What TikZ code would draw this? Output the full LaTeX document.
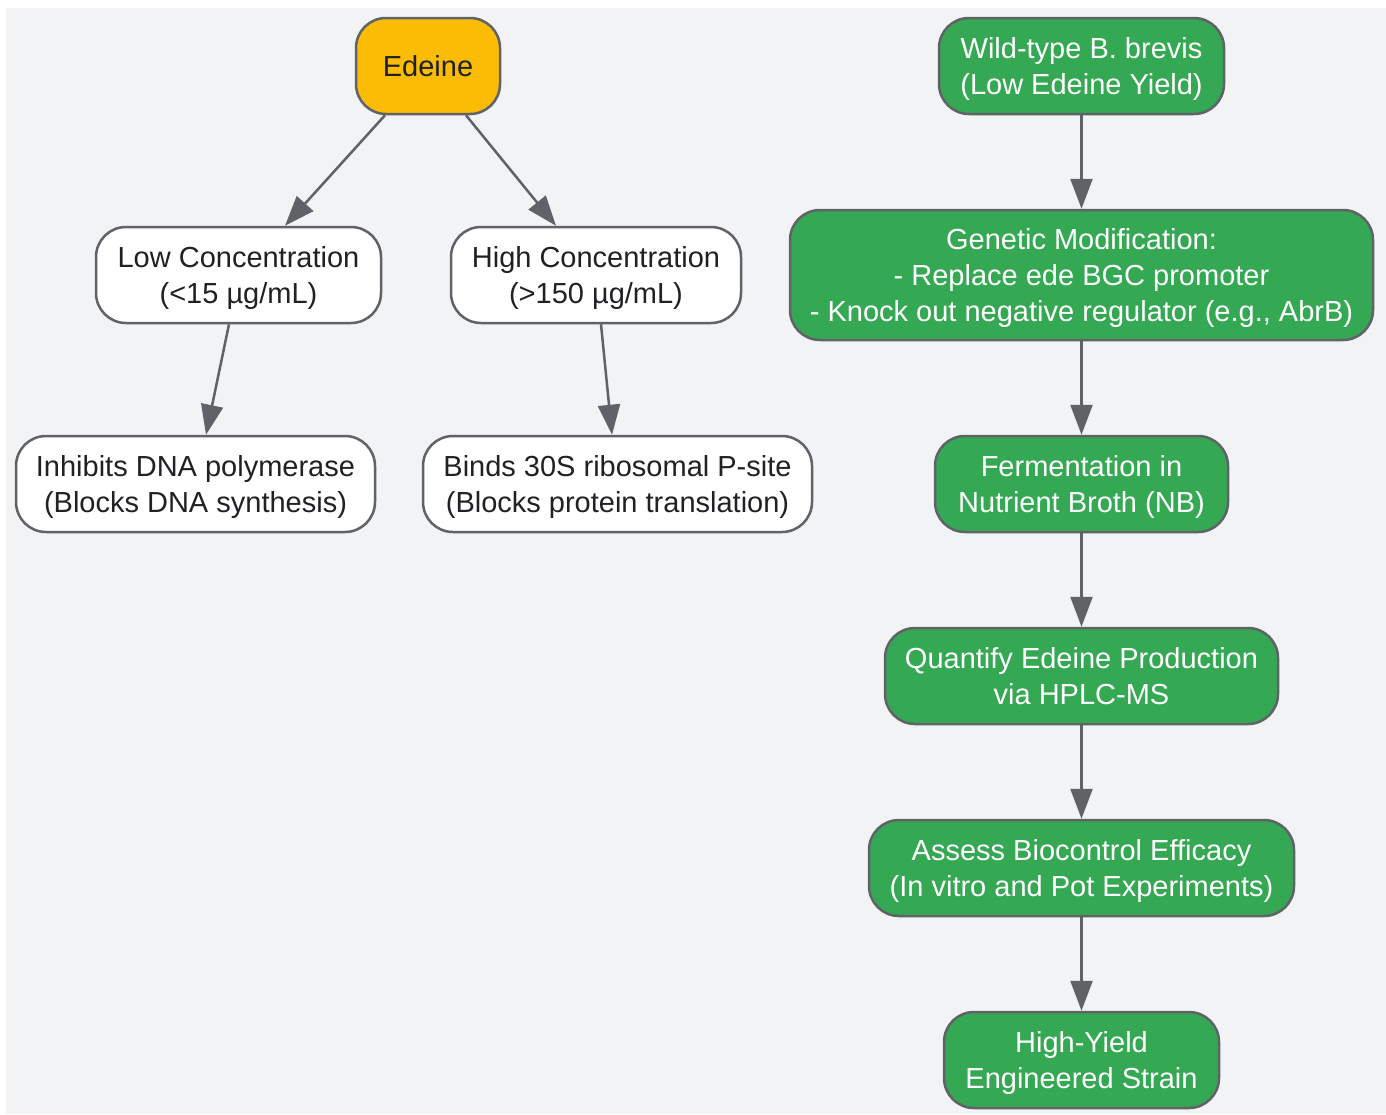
\documentclass[tikz,border=0pt]{standalone}
\usepackage{fontspec}
\setmainfont{Liberation Sans}
\usetikzlibrary{arrows.meta,calc}
\definecolor{bgc}{HTML}{F1F3F4}
\definecolor{yel}{HTML}{FBBC05}
\definecolor{grn}{HTML}{34A853}
\definecolor{edg}{HTML}{5F6368}
\definecolor{txt}{HTML}{202124}
\newcommand\lstrut{\rule[-8pt]{0pt}{36pt}}
\begin{document}
\begin{tikzpicture}[x=1pt,y=-1pt,
  box/.style={draw=edg,line width=2.5pt,rounded corners=30pt,align=center,inner sep=0pt,
    font=\fontsize{29}{36}\selectfont,text=txt,minimum height=96pt},
  whitebox/.style={box,fill=white},
  yelbox/.style={box,fill=yel},
  grnbox/.style={box,fill=grn,text=white},
  conn/.style={draw=edg,line width=2.5pt,-{Triangle[length=30pt,width=22pt]}}]
\useasboundingbox (0,0) rectangle (1386,1114);
\fill[white] (0,0) rectangle (1386,1114);
\fill[bgc] (6,8) rectangle (1386,1114);
\node[yelbox,minimum width=144pt] (edeine) at (428,66) {\lstrut Edeine};
\node[whitebox,minimum width=285pt] (low) at (238.5,275) {\lstrut Low Concentration\\(<15 µg/mL)\lstrut};
\node[whitebox,minimum width=290pt] (high) at (596,275) {\lstrut High Concentration\\(>150 µg/mL)\lstrut};
\node[whitebox,minimum width=359pt] (inh) at (195.5,484) {\lstrut Inhibits DNA polymerase\\(Blocks DNA synthesis)\lstrut};
\node[whitebox,minimum width=389pt] (binds) at (617.5,484) {\lstrut Binds 30S ribosomal P-site\\(Blocks protein translation)\lstrut};
\node[grnbox,minimum width=285pt] (wild) at (1081.5,66) {\lstrut Wild-type B. brevis\\(Low Edeine Yield)\lstrut};
\node[grnbox,minimum width=583pt,minimum height=130pt] (gen) at (1081.5,275) {\lstrut Genetic Modification:\\- Replace ede BGC promoter\\- Knock out negative regulator (e.g., AbrB)\lstrut};
\node[grnbox,minimum width=293pt] (ferm) at (1081.5,484) {\lstrut Fermentation in\\Nutrient Broth (NB)\lstrut};
\node[grnbox,minimum width=393pt] (quant) at (1081.5,676) {\lstrut Quantify Edeine Production\\via HPLC-MS\lstrut};
\node[grnbox,minimum width=425pt] (assess) at (1081.5,868) {\lstrut Assess Biocontrol Efficacy\\(In vitro and Pot Experiments)\lstrut};
\node[grnbox,minimum width=275pt] (hy) at (1081.5,1060) {\lstrut High-Yield\\Engineered Strain\lstrut};
\draw[conn] ($(edeine.south)+(-43,0)$) -- ($(low.north)+(46.5,0)$);
\draw[conn] ($(edeine.south)+(38,0)$) -- ($(high.north)+(-40,0)$);
\draw[conn] ($(low.south)+(-9.5,0)$) -- ($(inh.north)+(10.5,0)$);
\draw[conn] ($(high.south)+(5,0)$) -- ($(binds.north)+(-5.5,0)$);
\draw[conn] (wild) -- (gen);
\draw[conn] (gen) -- (ferm);
\draw[conn] (ferm) -- (quant);
\draw[conn] (quant) -- (assess);
\draw[conn] (assess) -- (hy);
\end{tikzpicture}
\end{document}
